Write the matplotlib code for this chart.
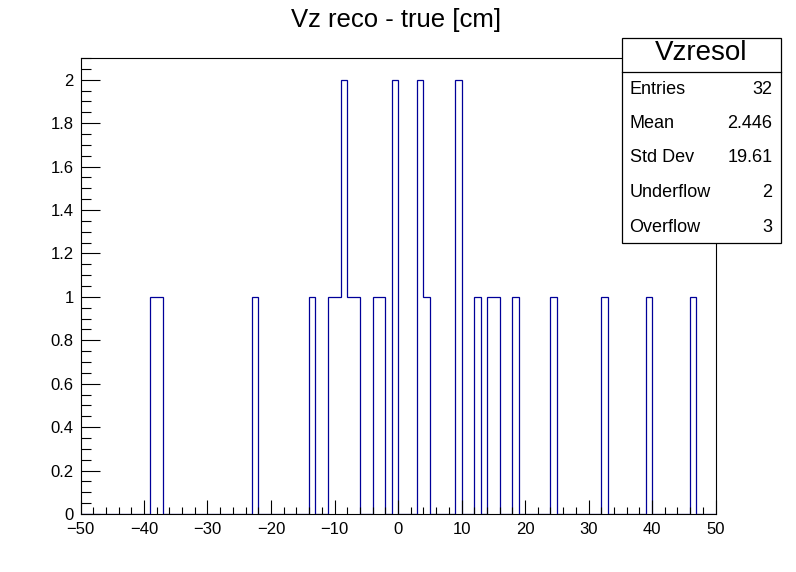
import numpy as np
import matplotlib
matplotlib.use("Agg")
import matplotlib.pyplot as plt
from matplotlib.patches import Rectangle
from matplotlib.lines import Line2D
from matplotlib.ticker import MultipleLocator

plt.rcParams['font.family'] = ['Liberation Sans', 'DejaVu Sans']

# histogram: 100 bins from -50 to 50, only the filled bins listed
x_min, x_max, n_bins = -50, 50, 100
filled_bin_low = [-39, -38, -23, -14, -11, -10, -9, -8, -7, -4, -3, -1,
                  3, 4, 9, 12, 14, 15, 18, 24, 32, 39, 46]
filled_count = [1, 1, 1, 1, 1, 1, 2, 1, 1, 1, 1, 2,
                2, 1, 2, 1, 1, 1, 1, 1, 1, 1, 1]

x_ticks = [-50, -40, -30, -20, -10, 0, 10, 20, 30, 40, 50]
y_ticks = [0, 0.2, 0.4, 0.6, 0.8, 1, 1.2, 1.4, 1.6, 1.8, 2]
y_tick_labels = ["0", "0.2", "0.4", "0.6", "0.8", "1", "1.2", "1.4", "1.6", "1.8", "2"]

stat_names = ["Entries", "Mean", "Std Dev", "Underflow", "Overflow"]
stat_values = ["32", "2.446", "19.61", "2", "3"]

edges = np.linspace(x_min, x_max, n_bins + 1)
counts = np.zeros(n_bins)
for lo, c in zip(filled_bin_low, filled_count):
    counts[int(lo - x_min)] = c

fig = plt.figure(figsize=(7.96, 5.72), dpi=100)
ax = fig.add_axes([80.5 / 796, 58 / 572, 635 / 796, 456 / 572])

ax.stairs(counts, edges, baseline=0, fill=False, color='#000099', linewidth=0.9)

ax.set_xlim(x_min, x_max)
ax.set_ylim(0, 2.1)
ax.set_xticks(x_ticks)
ax.set_xticklabels([str(v).replace('-', '\u2212') for v in x_ticks])
ax.xaxis.set_minor_locator(MultipleLocator(2))
ax.set_yticks(y_ticks)
ax.set_yticklabels(y_tick_labels)
ax.yaxis.set_minor_locator(MultipleLocator(0.05))

ax.tick_params(axis='both', which='both', direction='in', top=False, right=False,
               labelsize=12, width=0.8)
ax.tick_params(axis='x', which='major', length=10, pad=5.5)
ax.tick_params(axis='x', which='minor', length=5)
ax.tick_params(axis='y', which='major', length=14, pad=5)
ax.tick_params(axis='y', which='minor', length=7)
for sp in ax.spines.values():
    sp.set_linewidth(0.8)

fig.text(0.497, 0.965, "Vz reco - true [cm]", ha='center', va='center', fontsize=18.5)

# stats box
bx0, bx1 = 621.5 / 796, 780.5 / 796
by0, by1 = 1 - 243 / 572, 1 - 38 / 572
fig.add_artist(Rectangle((bx0, by0), bx1 - bx0, by1 - by0, transform=fig.transFigure,
                         facecolor='white', edgecolor='black', linewidth=0.9, zorder=5))
hy = 1 - 71.5 / 572
fig.add_artist(Line2D([bx0, bx1], [hy, hy], transform=fig.transFigure,
                      color='black', linewidth=0.9, zorder=6))
fig.text((bx0 + bx1) / 2, 1 - 53 / 572, "Vzresol", ha='center', va='center',
         fontsize=20, zorder=7)
row_y = [90, 123.5, 158, 192.5, 227]
for name, val, y in zip(stat_names, stat_values, row_y):
    fig.text(629.5 / 796, 1 - y / 572, name, ha='left', va='center', fontsize=13, zorder=7)
    fig.text(772.5 / 796, 1 - y / 572, val, ha='right', va='center', fontsize=13, zorder=7)

fig.savefig("out.png", dpi=100)
